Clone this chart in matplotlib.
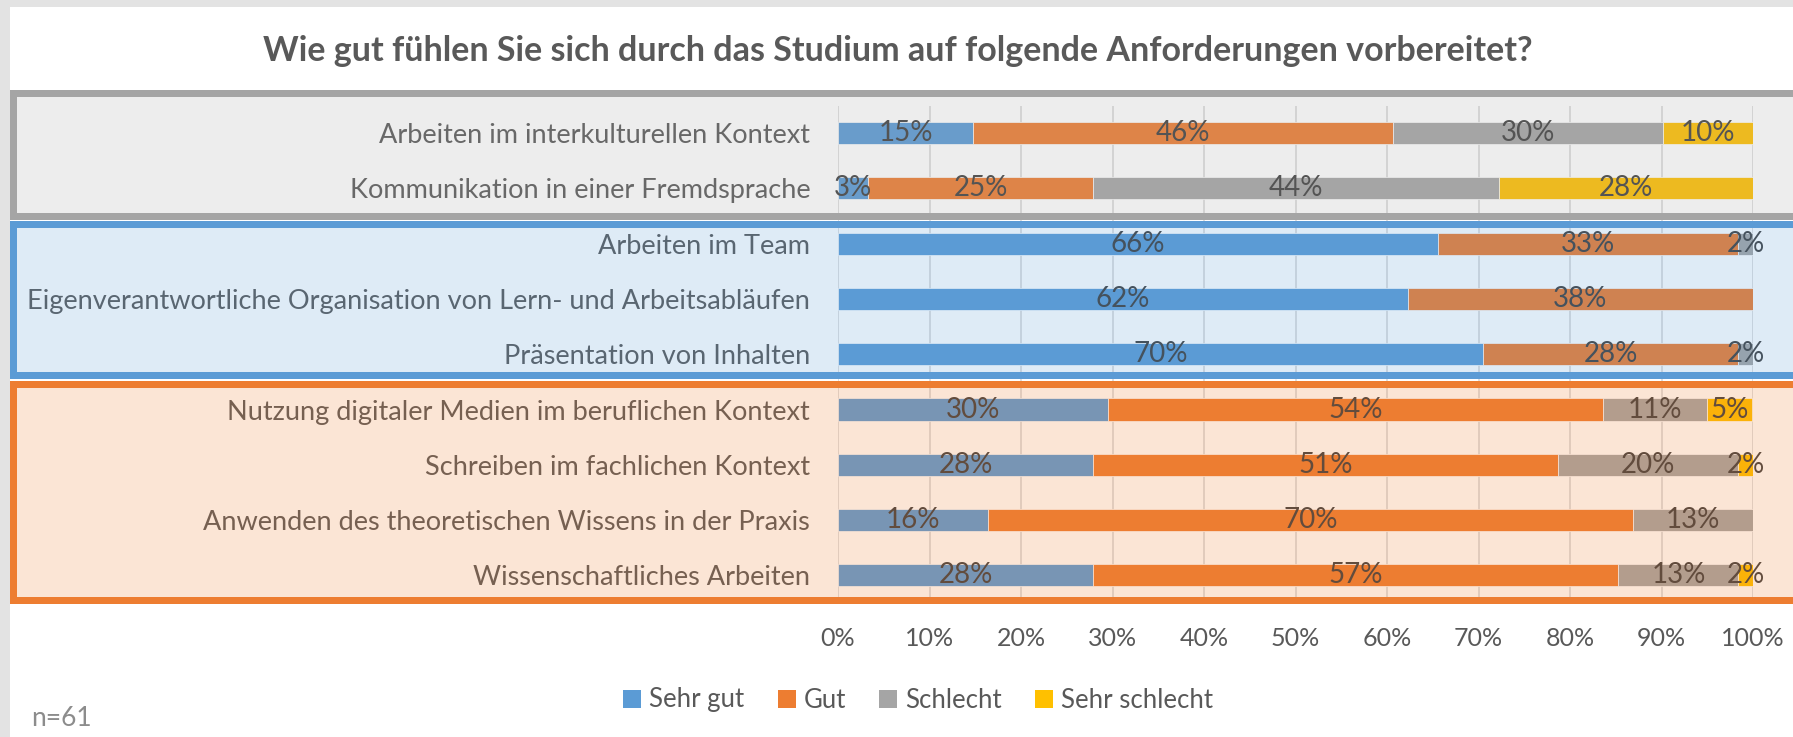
import matplotlib
matplotlib.use('Agg')
import matplotlib.pyplot as plt
from matplotlib.patches import Rectangle, Patch
from matplotlib.colors import to_rgba

W, H = 1793, 737
DPI = 100

categories = [
    "Arbeiten im interkulturellen Kontext",
    "Kommunikation in einer Fremdsprache",
    "Arbeiten im Team",
    "Eigenverantwortliche Organisation von Lern- und Arbeitsabläufen",
    "Präsentation von Inhalten",
    "Nutzung digitaler Medien im beruflichen Kontext",
    "Schreiben im fachlichen Kontext",
    "Anwenden des theoretischen Wissens in der Praxis",
    "Wissenschaftliches Arbeiten",
]
series_names = ["Sehr gut", "Gut", "Schlecht", "Sehr schlecht"]
sehr_gut = [14.8, 3.3, 65.6, 62.3, 70.5, 29.5, 27.9, 16.4, 27.9]
gut = [45.9, 24.6, 32.8, 37.7, 27.9, 54.1, 50.8, 70.5, 57.4]
schlecht = [29.5, 44.3, 1.6, 0.0, 1.6, 11.4, 19.7, 13.1, 13.1]
sehr_schlecht = [9.8, 27.9, 0.0, 0.0, 0.0, 4.9, 1.6, 0.0, 1.6]
x_ticks = [0, 10, 20, 30, 40, 50, 60, 70, 80, 90, 100]
title = "Wie gut fühlen Sie sich durch das Studium auf folgende Anforderungen vorbereitet?"
note = "n=61"

series_colors = ['#5B9BD5', '#ED7D31', '#A5A5A5', '#FFC000']
FONT = 'Lato'
plt.rcParams['font.family'] = [FONT, 'DejaVu Sans']


def fx(x):
    return x / W


def fy(y):
    return 1 - y / H


fig = plt.figure(figsize=(W / DPI, H / DPI), dpi=DPI)
fig.patch.set_facecolor('#E3E3E3')
fig.add_artist(Rectangle((fx(10), 0), 1 - fx(10), fy(7), transform=fig.transFigure,
                         facecolor='white', edgecolor='none', zorder=-10))

ax_left, ax_right = 838, 1753
ax_top, ax_bot = 105.5, 603
ax = fig.add_axes([fx(ax_left), fy(ax_bot), fx(ax_right) - fx(ax_left), (ax_bot - ax_top) / H])
ax.set_facecolor('none')

ypos = list(range(len(categories)))
all_series = [sehr_gut, gut, schlecht, sehr_schlecht]
lefts = [0.0] * len(categories)
for vals, col in zip(all_series, series_colors):
    ax.barh(ypos, vals, left=lefts, height=0.4, color=col, edgecolor='white',
            linewidth=0.5, zorder=3)
    for i, v in enumerate(vals):
        if v > 0:
            ax.text(lefts[i] + v / 2, i, f"{v:.0f}%", ha='center', va='center',
                    fontsize=20, color='#404040', zorder=4)
    lefts = [l + v for l, v in zip(lefts, vals)]

ax.set_xlim(0, 100)
ax.set_ylim(len(categories) - 0.5, -0.5)
ax.set_xticks(x_ticks)
ax.set_xticklabels([f"{t}%" for t in x_ticks])
ax.set_yticks(ypos)
ax.set_yticklabels(categories)
ax.tick_params(axis='x', length=0, pad=17, labelsize=18, labelcolor='#595959')
ax.tick_params(axis='y', length=0, pad=20, labelsize=19.5, labelcolor='#595959')
ax.grid(axis='x', color='#D9D9D9', linewidth=1.2, zorder=0)
ax.set_axisbelow(True)
for s in ax.spines.values():
    s.set_visible(False)

# group boxes (translucent overlays with solid border)
lw = 7 * 72 / DPI
boxes = [('#A5A5A5', 93, 216), ('#5B9BD5', 224, 374.5), ('#ED7D31', 383.5, 600)]
for col, top, bot in boxes:
    fig.add_artist(Rectangle((fx(13), fy(bot)), fx(1850) - fx(13), (bot - top) / H,
                             transform=fig.transFigure, facecolor=to_rgba(col, 0.2),
                             edgecolor=col, linewidth=lw, zorder=10, clip_on=False))

fig.text(fx(898), fy(51), title, ha='center', va='center', fontsize=24.5,
         fontweight='bold', color='#595959')

handles = [Patch(facecolor=c, edgecolor='none') for c in series_colors]
fig.legend(handles, series_names, loc='center', bbox_to_anchor=(fx(918), fy(700)),
           ncol=4, frameon=False, fontsize=18.5, handlelength=0.7, handleheight=0.7,
           handletextpad=0.3, columnspacing=1.3, labelcolor='#595959')

fig.text(fx(31), fy(718), note, ha='left', va='center', fontsize=19, color='#8C8C8C')

fig.savefig('out.png', dpi=DPI)
